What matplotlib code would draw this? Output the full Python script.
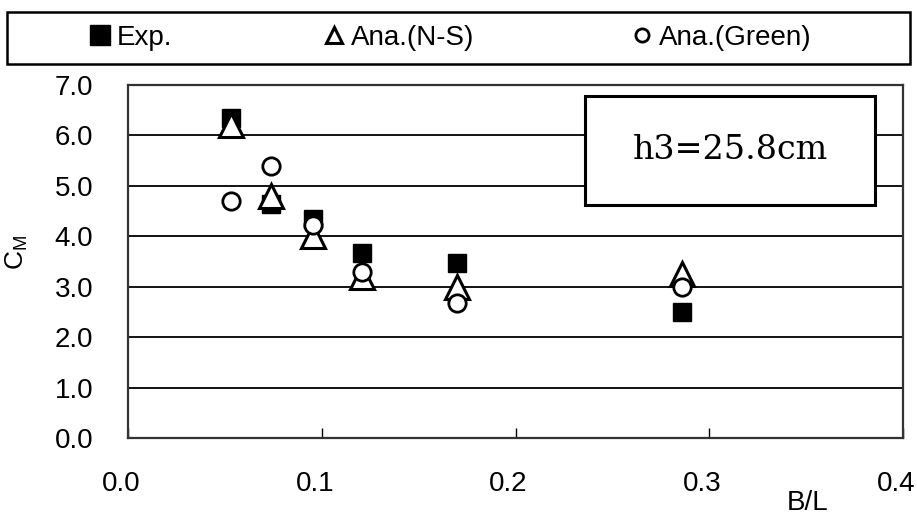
import matplotlib
matplotlib.use('Agg')
import matplotlib.pyplot as plt
import matplotlib.transforms as mtransforms
from matplotlib.patches import Rectangle
from matplotlib.lines import Line2D

# B/L positions and moment coefficient C_M
bl = [0.053, 0.074, 0.0955, 0.121, 0.170, 0.286]
cm_exp = [6.35, 4.65, 4.35, 3.67, 3.47, 2.50]
cm_ns = [6.20, 4.80, 4.00, 3.20, 3.00, 3.25]
cm_green = [4.70, 5.40, 4.22, 3.30, 2.68, 3.00]

series_names = ['Exp.', 'Ana.(N-S)', 'Ana.(Green)']
x_ticks = [0.0, 0.1, 0.2, 0.3, 0.4]
y_ticks = [0.0, 1.0, 2.0, 3.0, 4.0, 5.0, 6.0, 7.0]
case_label = 'h3=25.8cm'

plt.rcParams['font.family'] = ['Liberation Sans', 'DejaVu Sans']
plt.rcParams['mathtext.default'] = 'regular'

fig = plt.figure(figsize=(9.17, 5.18), dpi=100)
ax = fig.add_axes([128 / 917, 1 - 438 / 518, 775 / 917, 353 / 518])

# horizontal grid lines
for yv in y_ticks[1:-1]:
    ax.axhline(yv, color='black', lw=1.3, zorder=1)

ax.plot(bl, cm_exp, ls='none', marker='s', ms=13.5, color='black',
        mec='black', zorder=3)
ax.plot(bl, cm_ns, ls='none', marker='^', ms=17, mfc='white', mec='black',
        mew=2.2, zorder=4)
ax.plot(bl, cm_green, ls='none', marker='o', ms=12.5, mfc='white',
        mec='black', mew=2.0, zorder=5)

ax.set_xlim(0, 0.4)
ax.set_ylim(0, 7)
ax.set_xticks(x_ticks)
ax.set_xticklabels([f'{v:.1f}' for v in x_ticks])
ax.set_yticks(y_ticks)
ax.set_yticklabels([f'{v:.1f}' for v in y_ticks])
ax.tick_params(axis='x', direction='in', length=7, width=1, pad=24,
               labelsize=20)
ax.tick_params(axis='y', direction='in', length=0, pad=25, labelsize=20)

# x tick labels sit a little left of their ticks
shift = mtransforms.ScaledTranslation(-0.07, 0, fig.dpi_scale_trans)
for lbl in ax.get_xticklabels():
    lbl.set_transform(lbl.get_transform() + shift)

for sp in ax.spines.values():
    sp.set_color('#333333')
    sp.set_linewidth(1.6)

ax.set_xlabel('B/L', fontsize=20, va='center')
ax.xaxis.set_label_coords(0.877, -0.184)
ax.set_ylabel('C$_M$', fontsize=19, rotation=90, va='center')
ax.yaxis.set_label_coords(-0.143, 0.527)

# case label box
ax.add_patch(Rectangle((0.59, 0.66), 0.374, 0.309, transform=ax.transAxes,
                       facecolor='white', edgecolor='black', lw=2.2,
                       zorder=6))
ax.text(0.777, 0.815, case_label, transform=ax.transAxes, ha='center',
        va='center', fontsize=24, family='DejaVu Serif', zorder=7)

# legend strip above the plot
fig.patches.append(Rectangle((7 / 917, 1 - 64 / 518), 903 / 917, 52 / 518,
                             transform=fig.transFigure, facecolor='white',
                             edgecolor='black', lw=1.8))
legend_handles = [
    Line2D([], [], ls='none', marker='s', ms=14, color='black'),
    Line2D([], [], ls='none', marker='^', ms=11, mfc='white', mec='black',
           mew=2.2),
    Line2D([], [], ls='none', marker='o', ms=9.5, mfc='white', mec='black',
           mew=2.0),
]
legend_x = [89, 323, 631]
for h, name, lx in zip(legend_handles, series_names, legend_x):
    fig.legend([h], [name], loc='center left',
               bbox_to_anchor=(lx / 917, 1 - 38 / 518), frameon=False,
               fontsize=20, handlelength=0.8, handletextpad=0.2,
               borderpad=0, borderaxespad=0)

fig.savefig('out.png', dpi=100)
